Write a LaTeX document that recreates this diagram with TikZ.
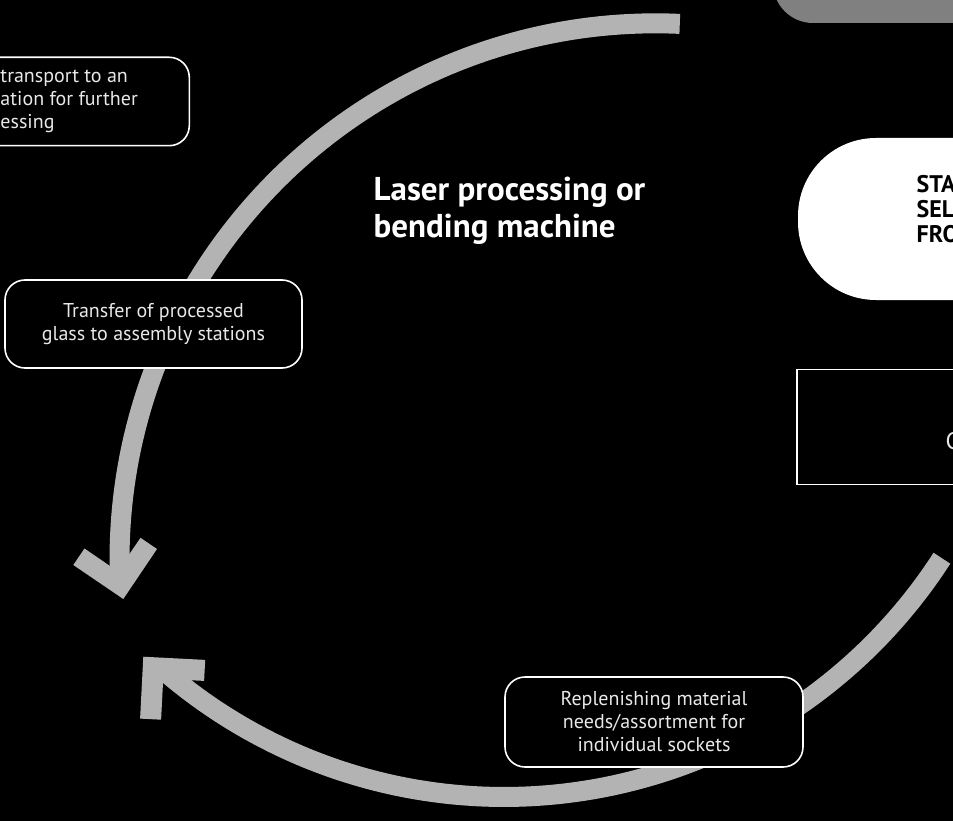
\documentclass[tikz,border=0pt]{standalone}
\usepackage{fontspec}
\setmainfont{PT Sans}
\definecolor{arrowgray}{HTML}{B3B3B3}
\definecolor{topgray}{HTML}{808080}
\definecolor{lighttxt}{HTML}{E8E8E8}
\begin{document}
\begin{tikzpicture}[x=1pt,y=-1pt,
  flow/.style={draw=arrowgray, line width=20pt},
  headfill/.style={fill=arrowgray},
  procbox/.style={draw=white, line width=1.6pt, fill=black, rounded corners=20pt, inner sep=0pt, align=center, text=lighttxt, font=\fontsize{20}{23}\selectfont},
  smalltxt/.style={text=lighttxt, font=\fontsize{20}{23}\selectfont, inner sep=0pt},
  bigtxt/.style={text=white, font=\bfseries\fontsize{33}{37}\selectfont, inner sep=0pt, align=left},
  capsuletxt/.style={text=black, font=\bfseries\fontsize{24}{24.5}\selectfont, inner sep=0pt, align=left},
]
\useasboundingbox (0,0) rectangle (953,821);
\fill[black] (0,0) rectangle (953,821);
\clip (0,0) rectangle (953,821);

% top-right gray shape
\fill[topgray, rounded corners=40pt] (773,-120) -- (773,23) -- (1100,23) -- (1100,-120) -- cycle;

% white capsule
\fill[white, rounded corners=78pt] (798,138) rectangle (1150,300);
\node[capsuletxt, anchor=base west] (startTxt) at (916.5,242) {STA\\SEL\\FRO};

% right rectangle
\draw[white, line width=1.5pt] (797,369.5) rectangle (1150,484.5);
\node[smalltxt, font=\fontsize{24}{28}\selectfont, anchor=base west] (cTxt) at (945.5,449.3) {C};

% upper arc with arrowhead
\draw[flow] plot[domain=-181.7:-87.4, samples=90] ({655.5+536*cos(\x)}, {559.3+536*sin(\x)});
\fill[headfill] (123.3,599) -- (73.3,565) -- (84.5,548.5) -- (117.7,571.3) -- (140.5,537.8) -- (157,549) -- cycle;

% lower arc with arrowhead
\draw[flow] plot[domain=32.8:130.6, samples=90] ({504+521*cos(\x)}, {276+521*sin(\x)});
\fill[headfill] (143.3,656.7) -- (205.2,659.9) -- (204.1,680.9) -- (163.2,678.8) -- (161.1,719.7) -- (140.1,718.6) -- cycle;

% top-left box (cut off)
\node[procbox, minimum width=340pt, minimum height=88.4pt] (transport) at (19.3,101.5) {};
\node[smalltxt, align=left, anchor=base west] (transportTxt) at (0.3,128.3) {transport to an\\ation for further\\essing};

% transfer box
\node[procbox, minimum width=297pt, minimum height=88pt] (transfer) at (153.5,324) {Transfer of processed\\glass to assembly stations};

% replenishing box
\node[procbox, minimum width=298pt, minimum height=90pt] (replen) at (654,722) {Replenishing material\\needs/assortment for\\individual sockets};

% title
\node[bigtxt, anchor=base west] (laser) at (373.5,237) {Laser processing or\\bending machine};
\end{tikzpicture}
\end{document}
